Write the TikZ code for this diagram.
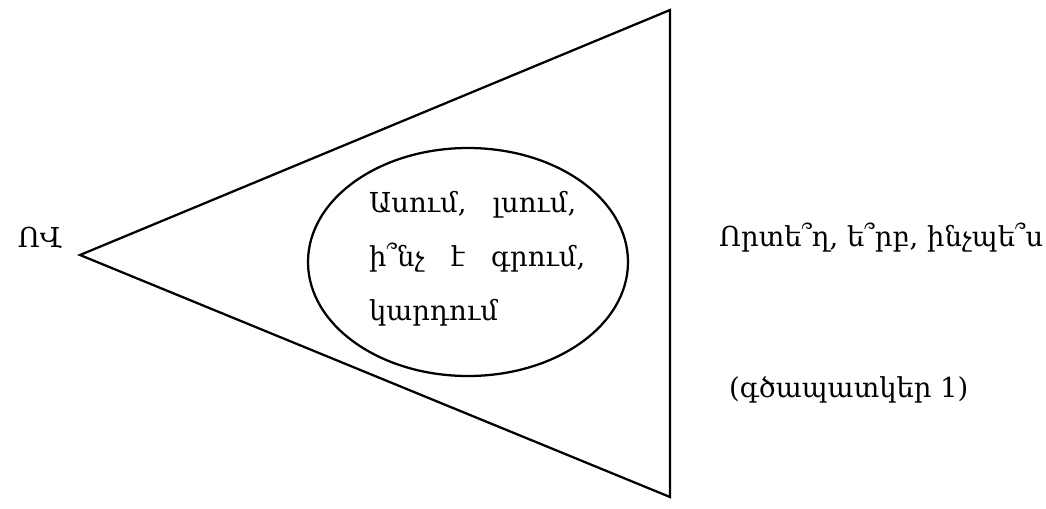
\documentclass[tikz,border=0pt]{standalone}
\usepackage{fontspec}
\setmainfont{DejaVu Serif}
\usepackage{tikz}
\usetikzlibrary{shapes.geometric,positioning}

\begin{document}
\begin{tikzpicture}[
  x=0.75pt,y=-0.75pt,
  line width=1.7pt,
  oval/.style={
    draw,
    ellipse,
    minimum width=240pt,
    minimum height=171pt,
    inner sep=0pt
  },
  label/.style={
    font=\fontsize{20.6}{40.5}\selectfont,
    inner sep=0pt
  }
]
\useasboundingbox (0,0) rectangle (1046,508);
% triangle
\coordinate (apex) at (80,255);
\coordinate (top) at (670,10);
\coordinate (bottom) at (670,497);
\draw[line join=miter] (apex) -- (top) -- (bottom) -- cycle;
% inner oval
\node[oval] (oval) at (468,262) {};
\node[label,align=left,anchor=west] (acts) at (368,259) {Ասում,\ \ \ լսում,\\ի՞նչ\ \ \ է\ \ \ գրում,\\կարդում};
\node[label,anchor=east] (who) at (63,238) {ՈՎ};
\node[label,anchor=west] (where) at (718,238) {Որտե՞ղ, ե՞րբ, ինչպե՞ս};
\node[label,anchor=west] (caption) at (728,390) {(գծապատկեր 1)};
\end{tikzpicture}
\end{document}
